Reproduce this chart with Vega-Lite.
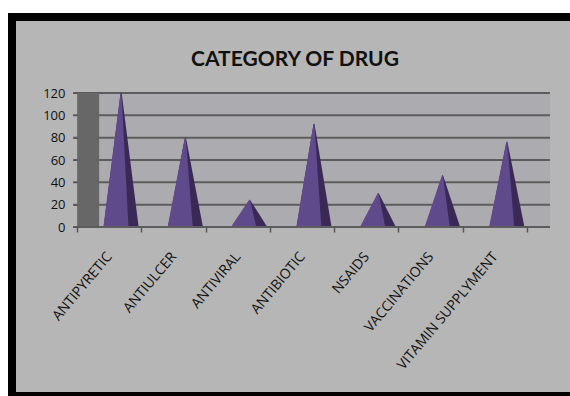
{
  "$schema": "https://vega.github.io/schema/vega-lite/v6.json",
  "width": 558,
  "height": 379,
  "autosize": {"type": "none"},
  "padding": {"left": 12, "top": 17, "right": 0, "bottom": 0},
  "background": "#ffffff",
  "view": {"fill": "#b6b6b6", "stroke": "#000000", "strokeWidth": 8, "strokeDash": [558, 379, 937]},
  "title": {
    "text": "CATEGORY OF DRUG",
    "font": "Lato",
    "fontSize": 21,
    "fontWeight": "bold",
    "color": "#111111",
    "anchor": "middle",
    "dx": 4,
    "offset": -53
  },
  "config": {
    "axisX": {
      "tickBand": "extent",
      "ticks": true,
      "tickSize": 5,
      "tickColor": "#555555",
      "tickWidth": 1.5,
      "domain": false,
      "offset": -169,
      "labelAngle": -50,
      "labelAlign": "right",
      "labelBaseline": "middle",
      "labelPadding": 22,
      "labelFont": "Open Sans",
      "labelFontSize": 14,
      "labelColor": "#111111",
      "grid": false,
      "title": null
    },
    "axisY": {
      "grid": false,
      "domain": false,
      "offset": -65,
      "ticks": true,
      "tickSize": 4,
      "tickColor": "#555555",
      "labelFont": "Open Sans",
      "labelFontSize": 13,
      "labelColor": "#111111",
      "labelPadding": 8,
      "title": null
    }
  },
  "datasets": {
    "drugs": [
      {"category": "ANTIPYRETIC", "count": 120},
      {"category": "ANTIULCER", "count": 80},
      {"category": "ANTIVIRAL", "count": 24},
      {"category": "ANTIBIOTIC", "count": 92},
      {"category": "NSAIDS", "count": 30},
      {"category": "VACCINATIONS", "count": 46},
      {"category": "VITAMIN SUPPLYMENT", "count": 76}
    ],
    "gridlines": [
      {"value": 0}, {"value": 20}, {"value": 40}, {"value": 60},
      {"value": 80}, {"value": 100}, {"value": 120}
    ],
    "wall": [{"part": "wall"}]
  },
  "data": {"name": "drugs"},
  "layer": [
    {
      "data": {"name": "wall"},
      "mark": {"type": "bar", "color": "#acabb0", "width": 451, "xOffset": 22.5},
      "encoding": {
        "x": {
          "datum": "ANTIBIOTIC",
          "type": "nominal",
          "scale": {
            "domain": ["ANTIPYRETIC", "ANTIULCER", "ANTIVIRAL", "ANTIBIOTIC", "NSAIDS", "VACCINATIONS", "VITAMIN SUPPLYMENT"],
            "paddingInner": 0,
            "paddingOuter": 0.839,
            "align": 0.6024
          },
          "axis": {"zindex": 1}
        },
        "y": {
          "datum": 120,
          "type": "quantitative",
          "scale": {"domain": [-151.34, 188.06], "nice": false, "zero": false},
          "axis": {"values": [0, 20, 40, 60, 80, 100, 120], "zindex": 1}
        },
        "y2": {"datum": 0}
      }
    },
    {
      "data": {"name": "gridlines"},
      "mark": {"type": "rule", "color": "#5c5c5c", "strokeWidth": 2, "xOffset": -36, "x2Offset": 55},
      "encoding": {
        "x": {"datum": "ANTIPYRETIC", "type": "nominal"},
        "x2": {"datum": "VITAMIN SUPPLYMENT"},
        "y": {"field": "value", "type": "quantitative"}
      }
    },
    {
      "data": {"name": "wall"},
      "mark": {"type": "bar", "color": "#676767", "width": 22, "xOffset": -21},
      "encoding": {
        "x": {"datum": "ANTIPYRETIC", "type": "nominal"},
        "y": {"datum": 120, "type": "quantitative"},
        "y2": {"datum": 0}
      }
    },
    {
      "transform": [
        {"fold": ["count"], "as": ["point", "level"]},
        {"impute": "level", "key": "point", "keyvals": ["base", "count"], "groupby": ["category"], "method": "value", "value": 0}
      ],
      "layer": [
        {
          "mark": {"type": "trail", "color": "#3a2957", "xOffset": 12},
          "encoding": {
            "x": {"field": "category", "type": "nominal"},
            "y": {"field": "level", "type": "quantitative"},
            "detail": {"field": "category"},
            "order": {"field": "level", "type": "quantitative"},
            "size": {"field": "point", "type": "nominal", "scale": {"type": "point", "domain": ["base", "count"], "range": [35, 0], "padding": 0}, "legend": null}
          }
        },
        {
          "mark": {"type": "trail", "color": "#5f4a8b"},
          "encoding": {
            "x": {"field": "category", "type": "nominal"},
            "xOffset": {"field": "point", "type": "nominal", "scale": {"type": "point", "domain": ["base", "count"], "range": [39, 44], "padding": 0}},
            "y": {"field": "level", "type": "quantitative"},
            "detail": {"field": "category"},
            "order": {"field": "level", "type": "quantitative"},
            "size": {"field": "point", "type": "nominal", "scale": {"type": "point", "domain": ["base", "count"], "range": [25, 0], "padding": 0}, "legend": null}
          }
        }
      ],
      "resolve": {"scale": {"size": "independent"}}
    },
    {
      "mark": {"type": "bar", "color": "#b6b6b6", "width": 37, "xOffset": 12},
      "encoding": {
        "x": {"field": "category", "type": "nominal"},
        "y": {"datum": 0, "type": "quantitative"},
        "y2": {"datum": -17}
      }
    },
    {
      "data": {"name": "wall"},
      "mark": {"type": "rule", "color": "#5c5c5c", "strokeWidth": 2, "xOffset": -36, "x2Offset": 55},
      "encoding": {
        "x": {"datum": "ANTIPYRETIC", "type": "nominal"},
        "x2": {"datum": "VITAMIN SUPPLYMENT"},
        "y": {"datum": 0, "type": "quantitative"}
      }
    }
  ]
}
